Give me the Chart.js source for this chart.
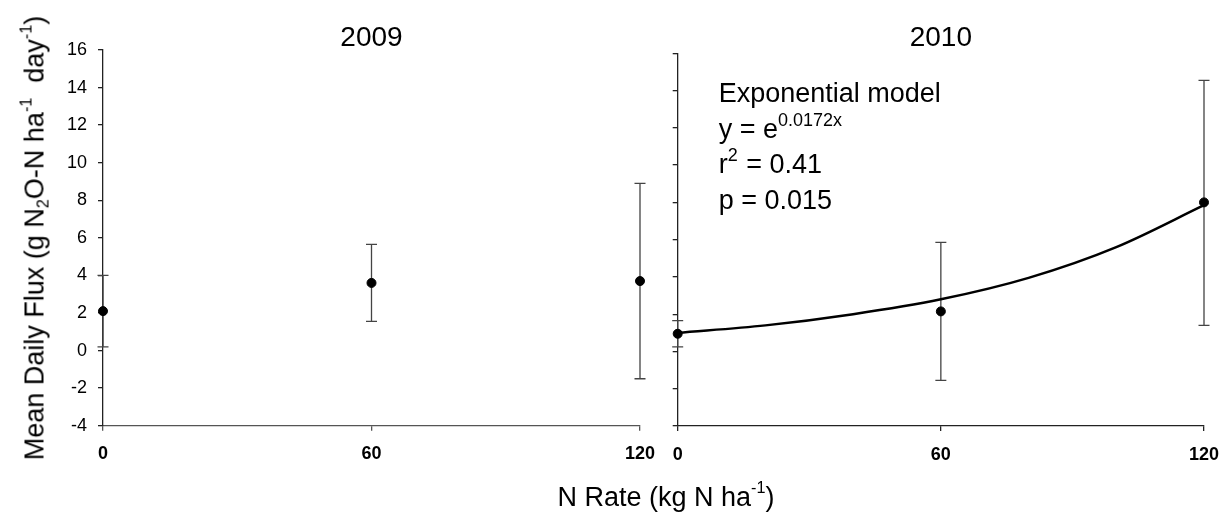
<!DOCTYPE html>
<html>
<head>
<meta charset="utf-8">
<script src="https://cdn.jsdelivr.net/npm/chart.js@4.4.1/dist/chart.umd.min.js"></script>
<style>
   body { margin: 0; background: #fff; }
   #wrap { position: relative; width: 1228px; height: 519px; background: #fff; font-family: "Liberation Sans", Arial, sans-serif; color: #000; }
   canvas { position: absolute; top: 0; }
   sub, sup { font-size: 60%; line-height: 0; }
   sup { vertical-align: 0.75em; }
   sub { vertical-align: -0.3em; }
   .ytitle { position: absolute; left: 35px; top: 238px; font-size: 27px; white-space: nowrap; transform: translate(-50%, -50%) rotate(-90deg); }
   .xtitle { position: absolute; left: 666px; top: 497px; font-size: 27px; white-space: nowrap; transform: translate(-50%, -50%); }
</style>
</head>
<body>
<div id="wrap">
   <canvas id="panel2009" width="660" height="519" style="left:0"></canvas>
   <canvas id="panel2010" width="568" height="519" style="left:660px"></canvas>
   <div class="ytitle">Mean Daily Flux (g N<sub>2</sub>O-N ha<sup>-1</sup>&nbsp; day<sup>-1</sup>)</div>
   <div class="xtitle">N Rate (kg N ha<sup>-1</sup>)</div>
</div>
<script>
// N rates (kg N/ha) and tick labels
const nRates     = [0, 60, 120];
const rateTicks  = [0, 60, 120];
const fluxTicks  = [-4, -2, 0, 2, 4, 6, 8, 10, 12, 14, 16];

// 2009 means and error bar ends
const flux2009   = [2.1, 3.6, 3.7];
const low2009    = [0.2, 1.55, -1.5];
const high2009   = [4.0, 5.65, 8.9];

// 2010 means and error bar ends
const flux2010   = [0.95, 2.15, 8.0];
const low2010    = [0.25, -1.55, 1.4];
const high2010   = [1.65, 5.85, 14.55];

// fitted curve for 2010
const fitRates   = [0, 20, 40, 60, 80, 100, 120];
const fit2010    = [1.0, 1.4, 2.0, 2.8, 3.95, 5.6, 7.85];

// model note text (segment, style)
const noteLines = [
   [["Exponential model", "n"]],
   [["y = e", "n"], ["0.0172x", "sup"]],
   [["r", "n"], ["2", "sup"], [" = 0.41", "n"]],
   [["p = 0.015", "n"]]
];

const fontFamily = '"Liberation Sans", Arial, sans-serif';
Chart.defaults.font.family = fontFamily;
Chart.defaults.color = "#000";

// draws vertical error bars with caps, through the chart scales
const errorBarPlugin = {
   id: "errorBars",
   beforeDatasetsDraw(chart, args, opts) {
      const xs = chart.scales.x, ys = chart.scales.y;
      const ctx = chart.ctx;
      ctx.save();
      ctx.strokeStyle = opts.color;
      ctx.lineWidth = 1.3;
      opts.x.forEach((xv, i) => {
         const px = xs.getPixelForValue(xv);
         const top = ys.getPixelForValue(opts.high[i]);
         const bot = ys.getPixelForValue(opts.low[i]);
         ctx.beginPath();
         ctx.moveTo(px, top); ctx.lineTo(px, bot);
         ctx.moveTo(px - opts.cap, top); ctx.lineTo(px + opts.cap, top);
         ctx.moveTo(px - opts.cap, bot); ctx.lineTo(px + opts.cap, bot);
         ctx.stroke();
      });
      ctx.restore();
   }
};

// panel title centred over the plot area, plus the model text in 2010
const textPlugin = {
   id: "panelText",
   afterDraw(chart, args, opts) {
      const ctx = chart.ctx, area = chart.chartArea;
      ctx.save();
      ctx.fillStyle = "#000";
      ctx.textAlign = "center";
      ctx.textBaseline = "alphabetic";
      ctx.font = `28px ${fontFamily}`;
      ctx.fillText(opts.title, (area.left + area.right) / 2, opts.titleBaseline);

      ctx.textAlign = "left";
      (opts.lines || []).forEach((line, i) => {
         let x = area.left + opts.offsetX;
         const y = area.top + opts.firstBaseline + i * opts.lineGap;
         line.forEach(([text, mode]) => {
            const sup = mode === "sup";
            ctx.font = `${sup ? opts.supSize : opts.size}px ${fontFamily}`;
            ctx.fillText(text, x, sup ? y - opts.supRaise : y);
            x += ctx.measureText(text).width + (sup ? 1 : 0);
         });
      });
      ctx.restore();
   }
};

function makePanel(id, opt) {
   const datasets = [];
   if (opt.fit) {
      datasets.push({
         data: fitRates.map((x, i) => ({ x: x, y: opt.fit[i] })),
         showLine: true,
         borderColor: "#000",
         borderWidth: 2.5,
         pointRadius: 0,
         cubicInterpolationMode: "monotone",
         clip: false
      });
   }
   datasets.push({
      data: nRates.map((x, i) => ({ x: x, y: opt.means[i] })),
      backgroundColor: "#000",
      borderColor: "#000",
      pointRadius: 4.5,
      clip: false
   });

   const text = { title: opt.title, titleBaseline: 46 };
   if (opt.fit) {
      Object.assign(text, {
         lines: noteLines, offsetX: 41, firstBaseline: 49, lineGap: 35.5,
         size: 27, supSize: 18, supRaise: 12
      });
   }

   return new Chart(document.getElementById(id), {
      type: "scatter",
      data: { datasets: datasets },
      plugins: [errorBarPlugin, textPlugin],
      options: {
         responsive: false,
         animation: false,
         events: [],
         layout: {
            autoPadding: false,
            padding: { left: 0, right: opt.padRight, top: opt.padTop, bottom: 0 }
         },
         plugins: {
            legend: { display: false },
            tooltip: { enabled: false },
            title: { display: false },
            errorBars: { x: nRates, low: opt.low, high: opt.high, color: "#444", cap: 5.5 },
            panelText: text
         },
         scales: {
            x: {
               type: "linear",
               min: 0,
               max: 120,
               afterBuildTicks: s => { s.ticks = rateTicks.map(v => ({ value: v })); },
               afterFit: s => {
                  s.height = opt.xHeight;
                  s.paddingLeft = 0;
                  s.paddingRight = 0;
               },
               border: { display: true, color: opt.axisColor, width: 1.3 },
               grid: { drawOnChartArea: false, drawTicks: true, tickLength: 5, color: opt.axisColor, lineWidth: 1.3 },
               ticks: { font: { size: 18, weight: "bold" }, color: "#000", padding: 13, maxRotation: 0 }
            },
            y: {
               type: "linear",
               min: -4,
               max: 16,
               afterBuildTicks: s => { s.ticks = fluxTicks.map(v => ({ value: v })); },
               afterFit: s => {
                  s.width = opt.yWidth;
                  s.paddingTop = 0;
                  s.paddingBottom = 0;
               },
               border: { display: true, color: "#222", width: 1.3 },
               grid: { drawOnChartArea: false, drawTicks: true, tickLength: 5, color: "#222", lineWidth: 1.3 },
               ticks: { display: opt.yLabels, font: { size: 18 }, color: "#000", padding: 11 }
            }
         }
      }
   });
}

makePanel("panel2009", {
   title: "2009", means: flux2009, low: low2009, high: high2009,
   padRight: 20, padTop: 50, xHeight: 93.3, yWidth: 103, yLabels: true, axisColor: "#555"
});

makePanel("panel2010", {
   title: "2010", means: flux2010, low: low2010, high: high2010, fit: fit2010,
   padRight: 24, padTop: 53.3, xHeight: 93, yWidth: 17.7, yLabels: false, axisColor: "#222"
});
</script>
</body>
</html>
